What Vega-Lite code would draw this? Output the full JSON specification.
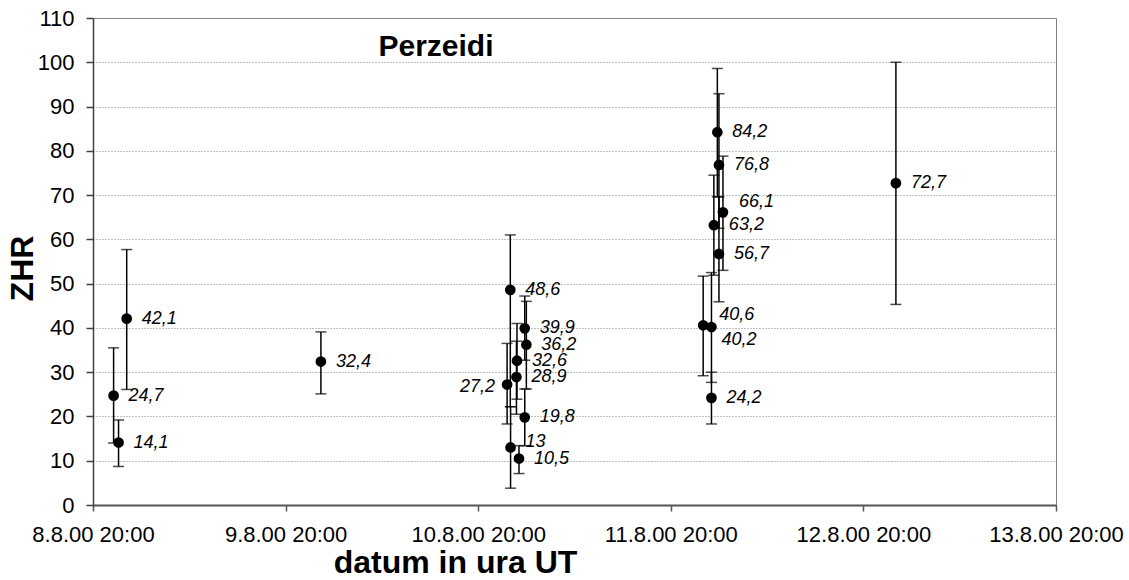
{
  "$schema": "https://vega.github.io/schema/vega-lite/v6.json",
  "autosize": "none",
  "width": 963,
  "height": 487,
  "padding": {"left": 93, "top": 18, "right": 73, "bottom": 75},
  "background": "white",
  "config": {
    "font": "Liberation Sans",
    "view": {"stroke": "#808080", "strokeWidth": 1},
    "locale": {"number": {"decimal": ",", "thousands": ".", "grouping": [3], "currency": ["", " €"]}}
  },
  "title": {
    "text": "Perzeidi",
    "anchor": "start",
    "frame": "group",
    "align": "center",
    "baseline": "alphabetic",
    "dx": 343,
    "offset": 0,
    "dy": 79,
    "fontSize": 30,
    "fontWeight": "bold",
    "font": "Liberation Sans",
    "color": "black"
  },
  "data": {
    "values": [
      {"t": "2000-08-08T22:34:00", "zhr": 24.7, "lo": 14.0, "hi": 35.5},
      {"t": "2000-08-08T23:11:00", "zhr": 14.1, "lo": 8.7, "hi": 19.2},
      {"t": "2000-08-09T00:12:00", "zhr": 42.1, "lo": 26.1, "hi": 57.7},
      {"t": "2000-08-10T00:24:00", "zhr": 32.4, "lo": 25.1, "hi": 39.1},
      {"t": "2000-08-10T23:36:00", "zhr": 27.2, "lo": 18.3, "hi": 36.5},
      {"t": "2000-08-11T00:00:00", "zhr": 48.6, "lo": 22.2, "hi": 61.0},
      {"t": "2000-08-11T00:02:00", "zhr": 13, "lo": 3.8, "hi": 22.2},
      {"t": "2000-08-11T00:46:00", "zhr": 28.9, "lo": 20.5, "hi": 37.0},
      {"t": "2000-08-11T00:50:00", "zhr": 32.6, "lo": 23.9, "hi": 41.0},
      {"t": "2000-08-11T01:05:00", "zhr": 10.5, "lo": 7.1, "hi": 13.4},
      {"t": "2000-08-11T01:48:00", "zhr": 39.9, "lo": 32.7, "hi": 47.2},
      {"t": "2000-08-11T01:48:00", "zhr": 19.8, "lo": 13.4, "hi": 26.2},
      {"t": "2000-08-11T02:00:00", "zhr": 36.2, "lo": 26.2, "hi": 46.0},
      {"t": "2000-08-12T00:02:00", "zhr": 40.6, "lo": 29.2, "hi": 51.7},
      {"t": "2000-08-12T01:04:00", "zhr": 40.2, "lo": 27.7, "hi": 52.5},
      {"t": "2000-08-12T01:04:00", "zhr": 24.2, "lo": 18.3, "hi": 30.0},
      {"t": "2000-08-12T01:22:00", "zhr": 63.2, "lo": 51.9, "hi": 74.5},
      {"t": "2000-08-12T01:48:00", "zhr": 84.2, "lo": 69.6, "hi": 98.6},
      {"t": "2000-08-12T02:00:00", "zhr": 56.7, "lo": 45.9, "hi": 69.6},
      {"t": "2000-08-12T02:00:00", "zhr": 76.8, "lo": 62.5, "hi": 92.9},
      {"t": "2000-08-12T02:30:00", "zhr": 66.1, "lo": 53.0, "hi": 78.8},
      {"t": "2000-08-13T00:03:00", "zhr": 72.7, "lo": 45.3, "hi": 100.0}
    ]
  },
  "encoding": {
    "x": {
      "field": "t",
      "type": "temporal",
      "title": "datum in ura UT",
      "scale": {
        "domain": [
          {"year": 2000, "month": 8, "date": 8, "hours": 20},
          {"year": 2000, "month": 8, "date": 13, "hours": 20}
        ],
        "nice": false
      },
      "axis": {
        "values": [
          {"year": 2000, "month": 8, "date": 8, "hours": 20},
          {"year": 2000, "month": 8, "date": 9, "hours": 20},
          {"year": 2000, "month": 8, "date": 10, "hours": 20},
          {"year": 2000, "month": 8, "date": 11, "hours": 20},
          {"year": 2000, "month": 8, "date": 12, "hours": 20},
          {"year": 2000, "month": 8, "date": 13, "hours": 20}
        ],
        "format": "%-d.%-m.%y %H:%M",
        "grid": false,
        "domainColor": "#555555",
        "domainWidth": 2,
        "tickColor": "#555555",
        "tickWidth": 1.5,
        "tickSize": 6,
        "labelFont": "Liberation Sans",
        "labelFontSize": 22,
        "labelColor": "black",
        "labelPadding": 13,
        "labelFlush": false,
        "labelOverlap": false,
        "titleFont": "Liberation Sans",
        "titleFontSize": 32,
        "titleFontWeight": "bold",
        "titleColor": "black",
        "titleAnchor": "start",
        "titleAlign": "center",
        "titleBaseline": "alphabetic",
        "titleX": 362,
        "titleY": 67
      }
    }
  },
  "layer": [
    {
      "mark": {"type": "rule", "color": "black", "strokeWidth": 1.5},
      "encoding": {
        "y": {
          "field": "lo",
          "type": "quantitative",
          "title": "ZHR",
          "scale": {"domain": [0, 110], "nice": false},
          "axis": {
            "values": [0, 10, 20, 30, 40, 50, 60, 70, 80, 90, 100, 110],
            "grid": true,
            "gridColor": "#808080",
            "gridDash": [1, 2],
            "gridWidth": 1,
            "domainColor": "#404040",
            "domainWidth": 1.5,
            "tickColor": "#404040",
            "tickWidth": 1.5,
            "tickSize": 7,
            "labelFont": "Liberation Sans",
            "labelFontSize": 22,
            "labelColor": "black",
            "labelPadding": 12,
            "titleFont": "Liberation Sans",
            "titleFontSize": 32,
            "titleFontWeight": "bold",
            "titleColor": "black",
            "titleAnchor": "start",
            "titleAngle": -90,
            "titleAlign": "center",
            "titleBaseline": "middle",
            "titleX": -71,
            "titleY": 250
          }
        },
        "y2": {"field": "hi"}
      }
    },
    {
      "mark": {"type": "tick", "orient": "horizontal", "color": "black", "size": 11, "thickness": 1.5},
      "encoding": {"y": {"field": "lo", "type": "quantitative", "title": "ZHR"}}
    },
    {
      "mark": {"type": "tick", "orient": "horizontal", "color": "black", "size": 11, "thickness": 1.5},
      "encoding": {"y": {"field": "hi", "type": "quantitative", "title": "ZHR"}}
    },
    {
      "mark": {"type": "circle", "color": "black", "opacity": 1, "size": 115},
      "encoding": {"y": {"field": "zhr", "type": "quantitative", "title": "ZHR"}}
    },
    {
      "transform": [{"filter": {"not": {"field": "zhr", "oneOf": [27.2, 40.6, 40.2, 66.1, 13]}}}],
      "mark": {"type": "text", "align": "left", "baseline": "middle", "dx": 15, "fontSize": 18, "fontStyle": "italic", "font": "Liberation Sans", "color": "black"},
      "encoding": {
        "y": {"field": "zhr", "type": "quantitative", "title": "ZHR"},
        "text": {"field": "zhr", "type": "quantitative", "format": ".3~r"}
      }
    },
    {
      "transform": [{"filter": {"field": "zhr", "equal": 27.2}}],
      "mark": {"type": "text", "align": "right", "baseline": "middle", "dx": -12, "dy": 2, "fontSize": 18, "fontStyle": "italic", "font": "Liberation Sans", "color": "black"},
      "encoding": {
        "y": {"field": "zhr", "type": "quantitative", "title": "ZHR"},
        "text": {"field": "zhr", "type": "quantitative", "format": ".3~r"}
      }
    },
    {
      "transform": [{"filter": {"field": "zhr", "oneOf": [40.6, 66.1]}}],
      "mark": {"type": "text", "align": "left", "baseline": "middle", "dx": 16, "dy": -10, "fontSize": 18, "fontStyle": "italic", "font": "Liberation Sans", "color": "black"},
      "encoding": {
        "y": {"field": "zhr", "type": "quantitative", "title": "ZHR"},
        "text": {"field": "zhr", "type": "quantitative", "format": ".3~r"}
      }
    },
    {
      "transform": [{"filter": {"field": "zhr", "equal": 13}}],
      "mark": {"type": "text", "align": "left", "baseline": "middle", "dx": 15, "dy": -5, "fontSize": 18, "fontStyle": "italic", "font": "Liberation Sans", "color": "black"},
      "encoding": {
        "y": {"field": "zhr", "type": "quantitative", "title": "ZHR"},
        "text": {"field": "zhr", "type": "quantitative", "format": ".3~r"}
      }
    },
    {
      "transform": [{"filter": {"field": "zhr", "equal": 40.2}}],
      "mark": {"type": "text", "align": "left", "baseline": "middle", "dx": 10, "dy": 13, "fontSize": 18, "fontStyle": "italic", "font": "Liberation Sans", "color": "black"},
      "encoding": {
        "y": {"field": "zhr", "type": "quantitative", "title": "ZHR"},
        "text": {"field": "zhr", "type": "quantitative", "format": ".3~r"}
      }
    }
  ]
}
